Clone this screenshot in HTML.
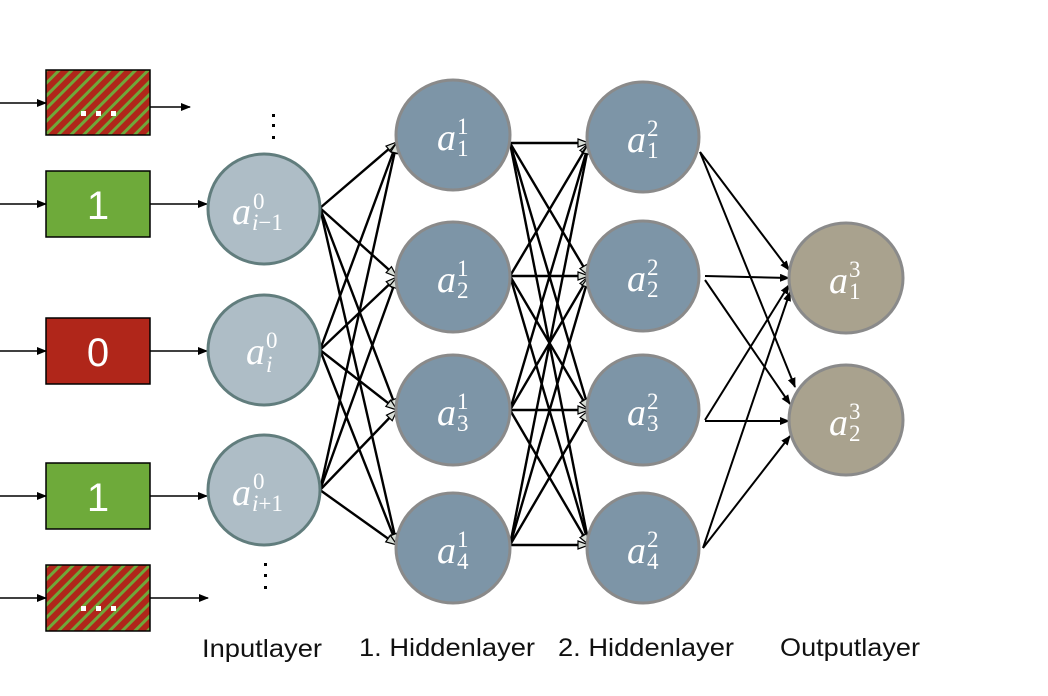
<!DOCTYPE html>
<html><head><meta charset="utf-8"><style>
html,body{margin:0;padding:0;background:#fff;}
svg{display:block;}
.m{font-family:"Liberation Serif",serif;fill:#fff;}
.lab{font-family:"Liberation Sans",sans-serif;font-size:25px;fill:#111;}
</style></head><body>
<svg width="1048" height="696" viewBox="0 0 1048 696" xmlns="http://www.w3.org/2000/svg">
<defs>
<pattern id="st" width="9" height="9" patternUnits="userSpaceOnUse" patternTransform="rotate(45)">
<rect width="9" height="9" fill="#b0261a"/><rect width="3" height="9" fill="#6fa83a"/>
</pattern>
<marker id="ab" markerWidth="10" markerHeight="8" refX="9" refY="4" orient="auto" markerUnits="userSpaceOnUse">
<path d="M0,0 L10,4 L0,8 Z" fill="#000"/></marker>
<marker id="ao" markerWidth="13" markerHeight="10" refX="12" refY="5" orient="auto" markerUnits="userSpaceOnUse">
<path d="M1,1 L12,5 L1,9 Z" fill="#d8ddd6" stroke="#000" stroke-width="1.2"/></marker>
</defs>

<g stroke="#000" stroke-width="1.5">
<rect x="46" y="70" width="104" height="65" fill="url(#st)"/>
<rect x="46" y="171" width="104" height="66" fill="#6eaa3a"/>
<rect x="46" y="318" width="104" height="66" fill="#b0261a"/>
<rect x="46" y="463" width="104" height="66" fill="#6eaa3a"/>
<rect x="46" y="565" width="104" height="66" fill="url(#st)"/>
</g>
<g fill="#fff">
<rect x="81" y="111" width="5" height="5"/><rect x="96" y="111" width="5" height="5"/><rect x="111" y="111" width="5" height="5"/>
<rect x="81" y="606" width="5" height="5"/><rect x="96" y="606" width="5" height="5"/><rect x="111" y="606" width="5" height="5"/>
</g>
<g font-family="Liberation Sans,sans-serif" font-size="40" fill="#fff" text-anchor="middle">
<text x="98" y="219">1</text><text x="98" y="366">0</text><text x="98" y="511">1</text>
</g>
<g stroke="#000" stroke-width="1.6" marker-end="url(#ab)">
<line x1="0" y1="103" x2="46" y2="103"/>
<line x1="150" y1="107" x2="190" y2="107"/>
<line x1="0" y1="204" x2="46" y2="204"/>
<line x1="150" y1="204" x2="207" y2="204"/>
<line x1="0" y1="351" x2="46" y2="351"/>
<line x1="150" y1="351" x2="207" y2="351"/>
<line x1="0" y1="496" x2="46" y2="496"/>
<line x1="150" y1="496" x2="207" y2="496"/>
<line x1="0" y1="598" x2="46" y2="598"/>
<line x1="150" y1="598" x2="208" y2="598"/>
</g>
<g fill="#000">
<rect x="272" y="114" width="3" height="3"/><rect x="272" y="124" width="3" height="3"/><rect x="272" y="136" width="3" height="3"/>
<rect x="264" y="563" width="3" height="3"/><rect x="264" y="574" width="3" height="3"/><rect x="264" y="586" width="3" height="3"/>
</g>

<g stroke="#000" stroke-width="2.4" marker-end="url(#ao)" fill="none">
<line x1="320" y1="208" x2="397" y2="142"/><line x1="320" y1="208" x2="397" y2="277"/><line x1="320" y1="208" x2="397" y2="410"/><line x1="320" y1="208" x2="397" y2="545"/>
<line x1="320" y1="350" x2="397" y2="142"/><line x1="320" y1="350" x2="397" y2="277"/><line x1="320" y1="350" x2="397" y2="410"/><line x1="320" y1="350" x2="397" y2="545"/>
<line x1="320" y1="490" x2="397" y2="142"/><line x1="320" y1="490" x2="397" y2="277"/><line x1="320" y1="490" x2="397" y2="410"/><line x1="320" y1="490" x2="397" y2="545"/>

<line x1="510" y1="143" x2="589" y2="143"/><line x1="510" y1="143" x2="589" y2="276"/><line x1="510" y1="143" x2="589" y2="410"/><line x1="510" y1="143" x2="589" y2="545"/>
<line x1="510" y1="276" x2="589" y2="143"/><line x1="510" y1="276" x2="589" y2="276"/><line x1="510" y1="276" x2="589" y2="410"/><line x1="510" y1="276" x2="589" y2="545"/>
<line x1="510" y1="410" x2="589" y2="143"/><line x1="510" y1="410" x2="589" y2="276"/><line x1="510" y1="410" x2="589" y2="410"/><line x1="510" y1="410" x2="589" y2="545"/>
<line x1="510" y1="545" x2="589" y2="143"/><line x1="510" y1="545" x2="589" y2="276"/><line x1="510" y1="545" x2="589" y2="410"/><line x1="510" y1="545" x2="589" y2="545"/>
</g>
<g stroke="#000" stroke-width="2" marker-end="url(#ab)" fill="none">
<line x1="700" y1="152" x2="789" y2="270"/><line x1="700" y1="152" x2="795" y2="387"/>
<line x1="705" y1="276" x2="789" y2="278"/><line x1="705" y1="280" x2="790" y2="404"/>
<line x1="705" y1="420" x2="789" y2="285"/><line x1="705" y1="421" x2="789" y2="421"/>
<line x1="703" y1="548" x2="790" y2="292"/><line x1="703" y1="548" x2="790" y2="436"/>
</g>

<g fill="#aebdc6" stroke="#617d7d" stroke-width="3">
<ellipse cx="264" cy="209" rx="56" ry="55"/>
<ellipse cx="264" cy="350" rx="56" ry="55"/>
<ellipse cx="264" cy="490" rx="56" ry="55"/>
</g>
<g fill="#7d95a7" stroke="#8a8a8a" stroke-width="3">
<ellipse cx="453" cy="135" rx="57" ry="55"/>
<ellipse cx="453" cy="277" rx="57" ry="55"/>
<ellipse cx="453" cy="410" rx="57" ry="55"/>
<ellipse cx="453" cy="548" rx="57" ry="55"/>
<ellipse cx="643" cy="137" rx="56" ry="55"/>
<ellipse cx="643" cy="276" rx="56" ry="55"/>
<ellipse cx="643" cy="410" rx="56" ry="55"/>
<ellipse cx="643" cy="548" rx="56" ry="55"/>
</g>
<g fill="#a9a28e" stroke="#8a8a8a" stroke-width="3">
<ellipse cx="846" cy="278" rx="57" ry="55"/>
<ellipse cx="846" cy="420" rx="57" ry="55"/>
</g>

<g class="m">
<text x="232" y="224" font-size="38" font-style="italic">a</text><text x="253" y="209" font-size="23">0</text><text x="252" y="230" font-size="23"><tspan font-style="italic">i</tspan>−1</text>
<text x="246" y="364" font-size="38" font-style="italic">a</text><text x="266" y="348" font-size="23">0</text><text x="266" y="372" font-size="23" font-style="italic">i</text>
<text x="232" y="505" font-size="38" font-style="italic">a</text><text x="253" y="489" font-size="23">0</text><text x="252" y="511" font-size="23"><tspan font-style="italic">i</tspan>+1</text>
</g>
<g class="m" font-size="23">
<g font-size="38" font-style="italic">
<text x="437" y="150">a</text><text x="437" y="292">a</text><text x="437" y="425">a</text><text x="437" y="563">a</text>
<text x="627" y="152">a</text><text x="627" y="291">a</text><text x="627" y="425">a</text><text x="627" y="563">a</text>
<text x="829" y="293">a</text><text x="829" y="435">a</text>
</g>
<text x="457" y="134">1</text><text x="457" y="156">1</text>
<text x="457" y="276">1</text><text x="457" y="298">2</text>
<text x="457" y="409">1</text><text x="457" y="431">3</text>
<text x="457" y="547">1</text><text x="457" y="569">4</text>
<text x="647" y="136">2</text><text x="647" y="158">1</text>
<text x="647" y="275">2</text><text x="647" y="297">2</text>
<text x="647" y="409">2</text><text x="647" y="431">3</text>
<text x="647" y="547">2</text><text x="647" y="569">4</text>
<text x="849" y="277">3</text><text x="849" y="299">1</text>
<text x="849" y="419">3</text><text x="849" y="441">2</text>
</g>

<text class="lab" x="202" y="657" textLength="120" lengthAdjust="spacingAndGlyphs">Inputlayer</text>
<text class="lab" x="359" y="656" textLength="176" lengthAdjust="spacingAndGlyphs">1. Hiddenlayer</text>
<text class="lab" x="558" y="656" textLength="176" lengthAdjust="spacingAndGlyphs">2. Hiddenlayer</text>
<text class="lab" x="780" y="656" textLength="140" lengthAdjust="spacingAndGlyphs">Outputlayer</text>
</svg>
</body></html>
